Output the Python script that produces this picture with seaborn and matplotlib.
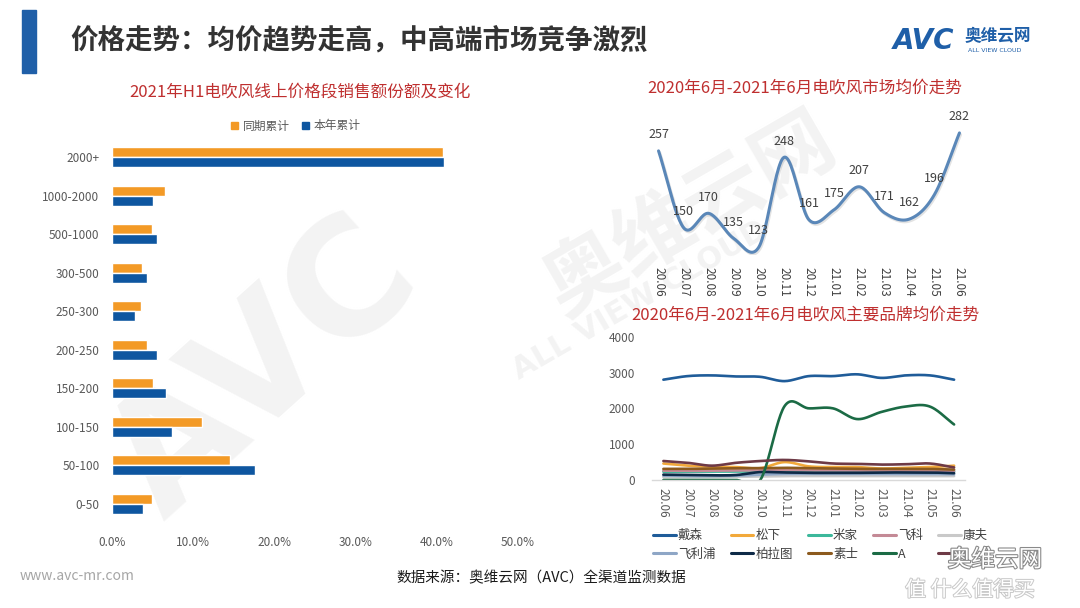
import numpy as np
import pandas as pd
import matplotlib
matplotlib.use("Agg")
import matplotlib.pyplot as plt
import seaborn as sns
from matplotlib.lines import Line2D
from matplotlib.patches import Rectangle
import matplotlib.patheffects as pe
from matplotlib.ticker import FuncFormatter

# ---------------- data ----------------
segments = ['2000+', '1000-2000', '500-1000', '300-500', '250-300',
            '200-250', '150-200', '100-150', '50-100', '0-50']
share_prev = [40.8, 6.5, 4.9, 3.7, 3.6, 4.3, 5.1, 11.1, 14.5, 4.9]   # 同期累计
share_curr = [40.9, 5.0, 5.6, 4.3, 2.8, 5.5, 6.6, 7.4, 17.6, 3.8]    # 本年累计
period_names = ['同期累计', '本年累计']
pct_ticks = [0, 10, 20, 30, 40, 50]

months = ['20.06', '20.07', '20.08', '20.09', '20.10', '20.11', '20.12',
          '21.01', '21.02', '21.03', '21.04', '21.05', '21.06']
avg_price = [257, 150, 170, 135, 123, 248, 161, 175, 207, 171, 162, 196, 282]

brands = ['戴森', '松下', '米家', '飞科', '康夫', '飞利浦', '柏拉图', '素士', 'A', '']
dyson = [2800, 2900, 2920, 2890, 2880, 2760, 2900, 2900, 2950, 2850, 2920, 2920, 2800]
panasonic = [460, 400, 370, 360, 330, 500, 380, 360, 360, 320, 340, 360, 400]
mijia = [230, 230, 235, 235, 240, 250, 245, 240, 240, 240, 240, 240, 235]
flyco = [260, 255, 260, 265, 270, 280, 270, 270, 270, 265, 265, 265, 255]
kangfu = [80, 80, 80, 90, 100, 110, 110, 110, 110, 110, 110, 110, 110]
philips = [120, 110, 110, 120, 150, 170, 170, 170, 170, 170, 170, 170, 160]
bolatu = [150, 140, 130, 140, 220, 210, 200, 200, 200, 210, 210, 210, 190]
soocas = [310, 310, 320, 330, 330, 340, 330, 320, 310, 310, 310, 310, 290]
brand_a = [0, 0, 0, 0, 0, 2060, 2000, 2000, 1700, 1900, 2050, 2050, 1550]
brand_x = [530, 480, 400, 480, 530, 560, 520, 460, 450, 430, 440, 460, 350]
brand_series = [dyson, panasonic, mijia, flyco, kangfu, philips, bolatu, soocas, brand_a, brand_x]
brand_colors = ['#1F5C99', '#F2A93B', '#3CB89B', '#C48A96', '#C9C9C9',
                '#8EA6C6', '#0E2A47', '#8C5A1E', '#1B6B45', '#6E3A46']
brand_ticks = [0, 1000, 2000, 3000, 4000]

# ---------------- style ----------------
sns.set_theme(style="white")
plt.rcParams['font.family'] = ['Noto Sans CJK SC', 'DejaVu Sans']
plt.rcParams['axes.unicode_minus'] = False

W, H = 1080, 608
fig = plt.figure(figsize=(W / 100, H / 100), dpi=100)
fig.patch.set_facecolor('white')

def rect(l, t, r, b):
    return [l / W, 1 - b / H, (r - l) / W, (b - t) / H]

def smooth(vals, n=24):
    y = np.asarray(vals, float)
    p = np.concatenate([[2 * y[0] - y[1]], y, [2 * y[-1] - y[-2]]])
    xs, ys = [], []
    t = np.linspace(0, 1, n, endpoint=False)
    for i in range(len(y) - 1):
        p0, p1, p2, p3 = p[i], p[i + 1], p[i + 2], p[i + 3]
        ys.append(0.5 * (2 * p1 + (-p0 + p2) * t + (2 * p0 - 5 * p1 + 4 * p2 - p3) * t ** 2
                         + (-p0 + 3 * p1 - 3 * p2 + p3) * t ** 3))
        xs.append(i + t)
    xs.append([len(y) - 1]); ys.append([y[-1]])
    return np.concatenate(xs), np.concatenate(ys)

RED = '#BF2F2F'
GRAY = '#595959'

# ---------------- background watermark ----------------
fig.text(265 / W, 1 - 370 / H, 'AVC', fontsize=115, fontweight='bold', rotation=42,
         color='#F3F3F3', ha='center', va='center', zorder=-5, family='DejaVu Sans')
fig.text(690 / W, 1 - 215 / H, '奥维云网', fontsize=58, fontweight='bold', rotation=30,
         color='#F3F3F3', ha='center', va='center', zorder=-5)
fig.text(640 / W, 1 - 300 / H, 'ALL VIEW CLOUD', fontsize=22, fontweight='bold', rotation=30,
         color='#F3F3F3', ha='center', va='center', zorder=-5, family='DejaVu Sans')

# ---------------- header ----------------
fig.patches.append(Rectangle((22 / W, 1 - 73 / H), 14 / W, 63 / H,
                             transform=fig.transFigure, color='#1F5FA8', zorder=2))
fig.text(70 / W, 1 - 41 / H, '价格走势：均价趋势走高，中高端市场竞争激烈', fontsize=19.8,
         fontweight='bold', color='#333333', ha='left', va='center')
fig.text(893 / W, 1 - 41 / H, 'AVC', fontsize=20, fontweight='bold', style='italic',
         color='#1F5FA8', ha='left', va='center', family='DejaVu Sans')
fig.text(965 / W, 1 - 36 / H, '奥维云网', fontsize=12, fontweight='bold',
         color='#1F5FA8', ha='left', va='center')
fig.text(968 / W, 1 - 51 / H, 'ALL VIEW CLOUD', fontsize=4.5,
         color='#1F5FA8', ha='left', va='center', family='DejaVu Sans')

# ---------------- left: bar chart ----------------
ax1 = fig.add_axes(rect(112, 138, 518, 523))
ax1.set_facecolor('none')
df = pd.DataFrame({
    'segment': segments * 2,
    'share': share_prev + share_curr,
    'period': [period_names[0]] * len(segments) + [period_names[1]] * len(segments),
})
bar_colors = ['#F39A26', '#0E56A0']
sns.barplot(data=df, y='segment', x='share', hue='period', hue_order=period_names,
            order=segments, palette=bar_colors, width=0.52, saturation=1,
            ax=ax1, legend=False)
ax1.set_xlim(0, 50)
ax1.set_xticks(pct_ticks)
ax1.xaxis.set_major_formatter(FuncFormatter(lambda v, p: f'{v:.1f}%'))
ax1.set_xlabel('')
ax1.set_ylabel('')
for s in ax1.spines.values():
    s.set_visible(False)
ax1.tick_params(axis='both', length=0, labelsize=8.5, colors=GRAY)
ax1.tick_params(axis='x', pad=9)
ax1.tick_params(axis='y', pad=9)
ax1.grid(False)
fig.text(300 / W, 1 - 92 / H, '2021年H1电吹风线上价格段销售额份额及变化', fontsize=12,
         color=RED, ha='center', va='center')
handles = [Rectangle((0, 0), 1, 1, color=c) for c in bar_colors]
ax1.legend(handles, period_names, loc='center', bbox_to_anchor=(296 / W, 1 - 126 / H),
           bbox_transform=fig.transFigure, ncol=2, frameon=False, handlelength=0.6,
           handleheight=0.6, handletextpad=0.4, columnspacing=1.0, fontsize=8.5,
           labelcolor=GRAY)

# ---------------- right top: average price ----------------
ax2 = fig.add_axes(rect(646, 120, 972, 255))
ax2.set_facecolor('none')
sx, sy = smooth(avg_price)
sns.lineplot(x=sx, y=sy, ax=ax2, color='#5A87B8', linewidth=2.2, sort=False, estimator=None,
             path_effects=[pe.SimpleLineShadow(offset=(0.8, -1.2), alpha=0.12), pe.Normal()])
for i, v in enumerate(avg_price):
    ax2.annotate(str(v), (i, v), xytext=(0, 7), textcoords='offset points',
                 ha='center', va='bottom', fontsize=9, color='#404040')
ax2.set_xlim(-0.5, 12.5)
ax2.set_ylim(112, 300)
ax2.set_xticks(range(len(months)))
ax2.set_xticklabels(months, rotation=-90, va='top', ha='center')
ax2.set_yticks([])
for s in ax2.spines.values():
    s.set_visible(False)
ax2.tick_params(axis='x', length=0, labelsize=8.5, colors='#404040', pad=9)
ax2.grid(False)
fig.text(805 / W, 1 - 88 / H, '2020年6月-2021年6月电吹风市场均价走势', fontsize=12,
         color=RED, ha='center', va='center')

# ---------------- right bottom: brands ----------------
ax3 = fig.add_axes(rect(652, 336.7, 965, 480))
ax3.set_facecolor('none')
for vals, col in zip(brand_series, brand_colors):
    bx, by = smooth(vals)
    sns.lineplot(x=bx, y=by, ax=ax3, color=col, linewidth=1.9, sort=False, estimator=None)
ax3.set_xlim(-0.47, 12.45)
ax3.set_ylim(0, 4000)
ax3.set_yticks(brand_ticks)
ax3.set_xticks(range(len(months)))
ax3.set_xticklabels(months, rotation=-90, va='top', ha='center')
for k, s in ax3.spines.items():
    s.set_visible(k == 'bottom')
ax3.spines['bottom'].set_color('#D9D9D9')
ax3.spines['bottom'].set_linewidth(1)
ax3.tick_params(axis='both', length=0, labelsize=8.5, colors=GRAY)
ax3.tick_params(axis='y', pad=12)
ax3.tick_params(axis='x', pad=6)
ax3.grid(False)
fig.text(805 / W, 1 - 315 / H, '2020年6月-2021年6月电吹风主要品牌均价走势', fontsize=12,
         color=RED, ha='center', va='center')
lh = [Line2D([0], [0], color=c, linewidth=2.2) for c in brand_colors]
order = [0, 5, 1, 6, 2, 7, 3, 8, 4, 9]   # row-major display with 5 columns
fig.legend([lh[i] for i in order], [brands[i] for i in order], loc='upper left',
           bbox_to_anchor=(648 / W, 1 - 524 / H), ncol=5,
           frameon=False, fontsize=9, handlelength=1.8, handletextpad=0.2,
           columnspacing=1.2, labelspacing=0.45, labelcolor='#404040', borderaxespad=0)

# ---------------- footer ----------------
fig.text(20 / W, 1 - 576 / H, 'www.avc-mr.com', fontsize=10, color='#A6A6A6',
         ha='left', va='center')
fig.text(541 / W, 1 - 578 / H, '数据来源：奥维云网（AVC）全渠道监测数据', fontsize=10.5,
         color='#1A1A1A', ha='center', va='center')
fig.text(995 / W, 1 - 560 / H, '奥维云网', fontsize=17, color='white', ha='center', va='center',
         path_effects=[pe.withStroke(linewidth=1.6, foreground='#8A8A8A')], zorder=10)
fig.text(1035 / W, 1 - 590 / H, '值 什么值得买', fontsize=15, color='white', ha='right',
         va='center', path_effects=[pe.withStroke(linewidth=1.4, foreground='#C8C8C8')], zorder=10)

fig.savefig('out.png', dpi=100, facecolor='white')
